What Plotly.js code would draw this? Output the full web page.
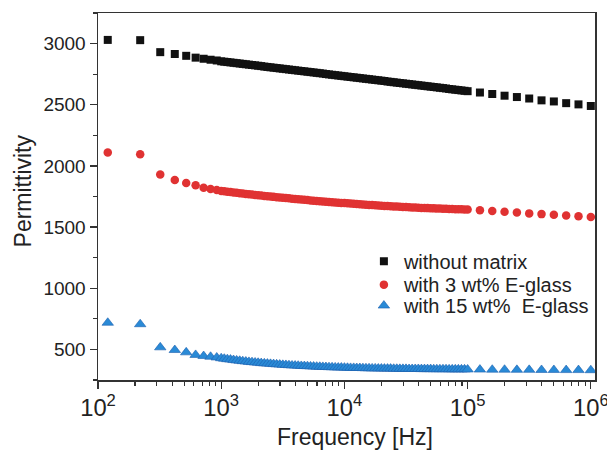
<!DOCTYPE html>
<html>
<head>
<meta charset="utf-8">
<script src="https://cdn.plot.ly/plotly-3.0.1.min.js"></script>
<style>html,body{margin:0;padding:0;background:#fff;}#chart{width:607px;height:453px;}</style>
</head>
<body>
<div id="chart"></div>
<script>
// Frequency [Hz]
const freq = [
  120, 220, 320, 420, 520, 620, 720, 820, 920,
  1000, 1059, 1122, 1189, 1259, 1334, 1413, 1496, 1585, 1679,
  1778, 1884, 1995, 2113, 2239, 2371, 2512, 2661, 2818, 2985,
  3162, 3350, 3548, 3758, 3981, 4217, 4467, 4732, 5012, 5309,
  5623, 5957, 6310, 6683, 7079, 7499, 7943, 8414, 8913, 9441,
  10000, 10590, 11220, 11890, 12590, 13340, 14130, 14960, 15850, 16790,
  17780, 18840, 19950, 21130, 22390, 23710, 25120, 26610, 28180, 29850,
  31620, 33500, 35480, 37580, 39810, 42170, 44670, 47320, 50120, 53090,
  56230, 59570, 63100, 66830, 70790, 74990, 79430, 84140, 89130, 94410,
  100000, 125900, 158500, 199500, 251200, 316200, 398100, 501200, 631000, 794300, 1000000
];

const withoutMatrix = [
  3030, 3028, 2930, 2915, 2900, 2885, 2876, 2868, 2862,
  2855, 2852, 2849, 2846, 2843, 2840, 2837, 2834, 2831, 2828,
  2825, 2822, 2819, 2816, 2812, 2809, 2806, 2803, 2800, 2797,
  2794, 2791, 2788, 2785, 2782, 2779, 2776, 2773, 2770, 2767,
  2764, 2761, 2758, 2755, 2751, 2748, 2745, 2742, 2739, 2736,
  2733, 2730, 2727, 2724, 2721, 2718, 2715, 2712, 2709, 2706,
  2703, 2700, 2697, 2694, 2690, 2687, 2684, 2681, 2678, 2675,
  2672, 2669, 2666, 2663, 2660, 2657, 2654, 2651, 2648, 2645,
  2642, 2639, 2636, 2633, 2629, 2626, 2623, 2620, 2617, 2614,
  2611, 2600, 2588, 2574, 2563, 2551, 2536, 2527, 2513, 2503, 2490
];

const with3EGlass = [
  2110, 2095, 1929, 1885, 1860, 1842, 1822, 1812, 1803,
  1795, 1792, 1789, 1786, 1783, 1780, 1777, 1774, 1771, 1769,
  1766, 1763, 1760, 1758, 1755, 1752, 1750, 1747, 1744, 1742,
  1740, 1737, 1735, 1732, 1730, 1727, 1725, 1723, 1721, 1718,
  1716, 1714, 1712, 1710, 1707, 1705, 1703, 1701, 1699, 1697,
  1696, 1694, 1692, 1690, 1688, 1686, 1685, 1683, 1681, 1680,
  1678, 1676, 1675, 1673, 1672, 1670, 1669, 1668, 1666, 1665,
  1664, 1662, 1661, 1660, 1659, 1657, 1656, 1655, 1654, 1653,
  1652, 1651, 1650, 1649, 1648, 1647, 1646, 1645, 1645, 1644,
  1643, 1637, 1631, 1625, 1619, 1612, 1606, 1600, 1594, 1588, 1582
];

const with15EGlass = [
  718, 706, 517, 495, 476, 455, 446, 440, 434,
  428, 424, 420, 417, 413, 410, 407, 404, 401, 398,
  396, 393, 391, 388, 386, 384, 382, 380, 378, 376,
  374, 373, 371, 369, 368, 367, 365, 364, 363, 361,
  360, 359, 358, 357, 356, 355, 354, 353, 352, 352,
  351, 350, 349, 349, 348, 348, 347, 346, 346, 345,
  345, 344, 344, 343, 343, 343, 342, 342, 341, 341,
  341, 340, 340, 340, 340, 339, 339, 339, 339, 338,
  338, 338, 338, 338, 337, 337, 337, 337, 337, 337,
  336, 335, 334, 334, 333, 333, 332, 332, 331, 331, 330
];

const seriesNames = ['without matrix', 'with 3 wt% E-glass', 'with 15 wt%\u00a0 E-glass'];
const xTitle = 'Frequency [Hz]';
const yTitle = 'Permittivity';

const font = 'Liberation Sans, Arial, sans-serif';

const traces = [
  {x: freq, y: withoutMatrix, name: seriesNames[0], type: 'scatter', mode: 'markers', legend: 'legend',
   marker: {symbol: 'square', size: 8, color: '#111111'}},
  {x: freq, y: with3EGlass, name: seriesNames[1], type: 'scatter', mode: 'markers', legend: 'legend2',
   marker: {symbol: 'circle', size: 8.5, color: '#e03232'}},
  {x: freq, y: with15EGlass, name: seriesNames[2], type: 'scatter', mode: 'markers', legend: 'legend3',
   marker: {symbol: 'triangle-up', size: 10, color: '#2a8ad6', line: {color: '#1d5fae', width: 0.6}}}
];

const legBase = {x: 0.535, xanchor: 'left', yanchor: 'top', bgcolor: 'rgba(0,0,0,0)',
                 font: {family: font, size: 20, color: '#222'}};

const layout = {
  width: 607, height: 453,
  margin: {l: 98, r: 12, t: 13, b: 73},
  paper_bgcolor: '#fff', plot_bgcolor: '#fff',
  font: {family: font, color: '#222', size: 19},
  showlegend: true,
  legend: Object.assign({}, legBase, {y: 0.377}),
  legend2: Object.assign({}, legBase, {y: 0.313}),
  legend3: Object.assign({}, legBase, {y: 0.256}),
  xaxis: {
    type: 'log', range: [2, 6.034], dtick: 1, exponentformat: 'power',
    showgrid: false, zeroline: false,
    showline: true, linecolor: '#333', linewidth: 1.5, mirror: true,
    ticks: 'outside', ticklen: 7, tickwidth: 1.2, tickcolor: '#333',
    ticklabeloverflow: 'allow',
    minor: {ticks: 'outside', ticklen: 4, tickcolor: '#333', dtick: 'D1', showgrid: false},
    tickfont: {family: font, size: 19, color: '#222'}
  },
  yaxis: {
    range: [250, 3250], dtick: 500, tick0: 0,
    showgrid: false, zeroline: false,
    showline: true, linecolor: '#333', linewidth: 1.5, mirror: true,
    ticks: 'outside', ticklen: 7, tickwidth: 1.2, tickcolor: '#333',
    minor: {ticks: 'outside', ticklen: 4, tickcolor: '#333', dtick: 250, showgrid: false},
    tickfont: {family: font, size: 19, color: '#222'}
  },
  annotations: [
    {text: xTitle, xref: 'paper', yref: 'paper', x: 0.517, y: -0.155, xanchor: 'center', yanchor: 'middle',
     showarrow: false, font: {family: font, size: 23, color: '#222'}},
    {text: yTitle, xref: 'paper', yref: 'paper', x: -0.15, y: 0.515, xanchor: 'center', yanchor: 'middle',
     textangle: -90, showarrow: false, font: {family: font, size: 23, color: '#222'}}
  ]
};

Plotly.newPlot('chart', traces, layout, {displayModeBar: false, staticPlot: true});
</script>
</body>
</html>
